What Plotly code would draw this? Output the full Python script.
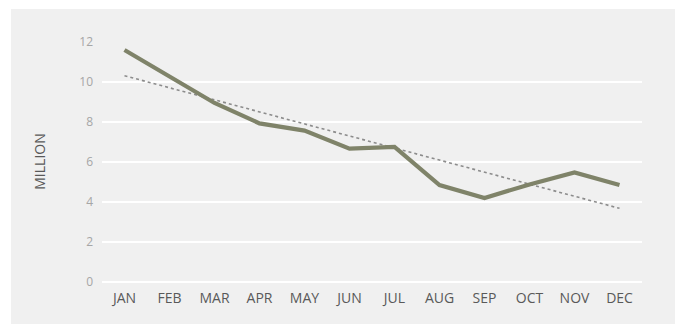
import numpy as np
import plotly.graph_objects as go

months = ["JAN", "FEB", "MAR", "APR", "MAY", "JUN", "JUL", "AUG", "SEP", "OCT", "NOV", "DEC"]
values = [11.6, 10.25, 8.95, 7.93, 7.57, 6.67, 6.76, 4.85, 4.2, 4.88, 5.48, 4.85]
y_ticks = [0, 2, 4, 6, 8, 10, 12]

# linear trendline (least squares fit of the series)
idx = np.arange(len(values))
slope, intercept = np.polyfit(idx, values, 1)
trend = list(slope * idx + intercept)

fig = go.Figure()
fig.add_trace(go.Scatter(
    x=months, y=trend, mode="lines",
    line=dict(color="#8c8c8c", width=1.6, dash="dot"),
    hoverinfo="skip", showlegend=False,
))
fig.add_trace(go.Scatter(
    x=months, y=values, mode="lines",
    line=dict(color="#7f8369", width=4.2),
    showlegend=False,
))

W, H = 675, 324
L, R, T, B = 102, 33, 41, 42
pw, ph = W - L - R, H - T - B

fig.add_shape(
    type="rect", xref="paper", yref="paper",
    x0=(11 - L) / pw, x1=(W - L) / pw,
    y0=(H - B - H) / ph, y1=(H - B - 9) / ph,
    fillcolor="#f0f0f0", line=dict(width=0), layer="below",
)

fig.update_layout(
    width=W, height=H,
    margin=dict(l=L, r=R, t=T, b=B),
    paper_bgcolor="white",
    plot_bgcolor="rgba(0,0,0,0)",
    font=dict(family="Open Sans", size=14, color="#595959"),
    xaxis=dict(
        range=[-0.5, 11.5], showgrid=False, zeroline=False, showline=False,
        ticks="", ticklabelstandoff=6, tickfont=dict(size=14, color="#595959"),
        categoryorder="array", categoryarray=months,
    ),
    yaxis=dict(
        range=[0, 12.05], tickvals=y_ticks, showgrid=True,
        gridcolor="white", gridwidth=2.2,
        zeroline=True, zerolinecolor="white", zerolinewidth=2.2, showline=False,
        ticks="", ticklabelstandoff=8,
        tickfont=dict(size=12, color="#a6a6a6"),
        title=dict(text="MILLION", font=dict(size=14, color="#595959"), standoff=30),
    ),
)

fig.write_html("out.html")
